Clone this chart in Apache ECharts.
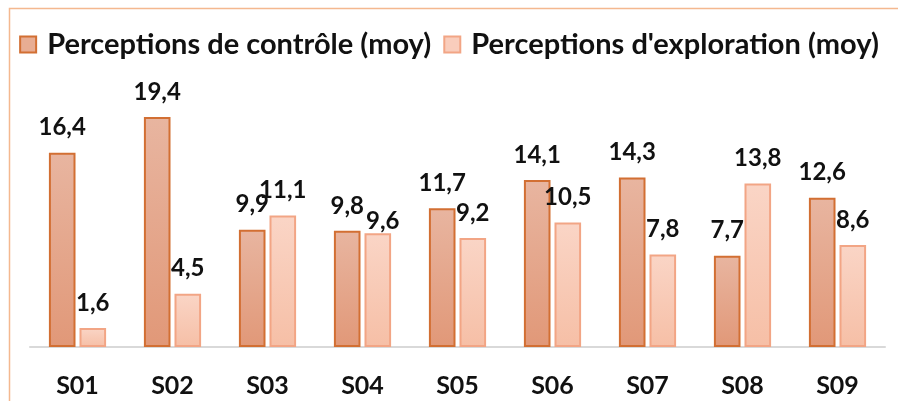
<!DOCTYPE html>
<html>
<head>
<meta charset="utf-8">
<script src="https://cdn.jsdelivr.net/npm/echarts@6/dist/echarts.min.js"></script>
<style>
html,body{margin:0;padding:0;background:#fff;}
#main{width:898px;height:401px;}
</style>
</head>
<body>
<div id="main"></div>
<script>
var categories = ['S01','S02','S03','S04','S05','S06','S07','S08','S09'];
var controle = [16.4, 19.4, 9.9, 9.8, 11.7, 14.1, 14.3, 7.7, 12.6];   // Perceptions de contrôle
var exploration = [1.6, 4.5, 11.1, 9.6, 9.2, 10.5, 7.8, 13.8, 8.6];  // Perceptions d'exploration
var seriesNames = ['Perceptions de contrôle (moy)', "Perceptions d'exploration (moy)"];

var myChart = echarts.init(document.getElementById('main'));

var labelStyle = {
    show: true,
    position: 'top',
    distance: 13,
    fontFamily: 'Lato',
    fontWeight: 'bold',
    fontSize: 24,
    color: '#111',
    formatter: function(p) { return String(p.value).replace('.', ','); }
};

// le label 9,6 (S04) est collé à la barre dans l'original
var explorationData = exploration.map(function(v, i) {
    if (categories[i] === 'S04') return { value: v, label: { distance: 0, offset: [5, 0] } };
    return v;
});

var option = {
    animation: false,
    textStyle: { fontFamily: 'Lato' },
    graphic: [{
        type: 'rect',
        shape: { x: 9.5, y: 8.5, width: 1000, height: 1000 },
        style: { fill: 'none', stroke: '#f4b88f', lineWidth: 1.5 },
        silent: true
    }],
    legend: {
        top: 25,
        left: 'center',
        itemWidth: 16,
        itemHeight: 16,
        itemGap: 12,
        textStyle: {
            fontFamily: 'Lato',
            fontWeight: 'bold',
            fontSize: 29,
            color: '#111',
            padding: [0, 0, 0, 6]
        },
        data: [
            { name: seriesNames[0], icon: 'rect', itemStyle: { color: '#e8ad93', borderColor: '#d26f33', borderWidth: 2 } },
            { name: seriesNames[1], icon: 'rect', itemStyle: { color: '#f9cdbc', borderColor: '#f2a585', borderWidth: 2 } }
        ]
    },
    grid: { left: 30, right: 13, top: 110, bottom: 54 },
    xAxis: {
        type: 'category',
        data: categories,
        axisTick: { show: false },
        axisLine: { lineStyle: { color: '#d9d9d9', width: 2 } },
        axisLabel: {
            margin: 26,
            fontFamily: 'Lato',
            fontWeight: 'bold',
            fontSize: 25,
            color: '#111'
        }
    },
    yAxis: {
        type: 'value',
        min: 0,
        max: 20,
        show: false,
        splitLine: { show: false }
    },
    series: [{
        name: seriesNames[0],
        type: 'bar',
        barWidth: '28%',
        barGap: '15%',
        itemStyle: {
            color: new echarts.graphic.LinearGradient(0, 0, 0, 1, [
                { offset: 0, color: '#e8b5a0' },
                { offset: 1, color: '#e19878' }
            ]),
            borderColor: '#d26f33',
            borderWidth: 2
        },
        label: labelStyle,
        data: controle
    }, {
        name: seriesNames[1],
        type: 'bar',
        barWidth: '28%',
        itemStyle: {
            color: new echarts.graphic.LinearGradient(0, 0, 0, 1, [
                { offset: 0, color: '#fad5c6' },
                { offset: 1, color: '#f6bfa6' }
            ]),
            borderColor: '#f2a585',
            borderWidth: 2
        },
        label: labelStyle,
        data: explorationData
    }]
};

myChart.setOption(option);
</script>
</body>
</html>
